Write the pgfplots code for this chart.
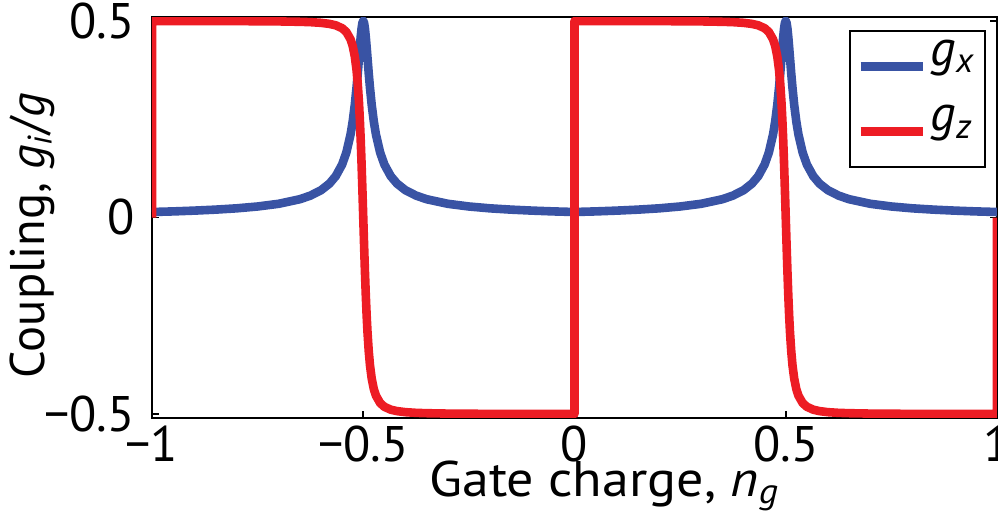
\documentclass[border=0pt]{standalone}
\usepackage{fontspec}
\setmainfont{PT Sans}
\newfontfamily\widefont{PT Sans}[FakeStretch=1.08]
\usepackage{pgfplots}
\usepackage{pgfplotstable}
\pgfplotsset{compat=1.18}

\definecolor{gxblue}{RGB}{57,83,164}
\definecolor{gzred}{RGB}{237,28,36}

% ng, g_x/g, g_z/g (repeated ng rows mark the jumps of g_z)
\pgfplotstableread{
ng      gx      gz
-1      0.0140  0
-1      0.0140  0.4999
-0.95   0.0155  0.4998
-0.9    0.0175  0.4997
-0.85   0.0200  0.4996
-0.8    0.0233  0.4995
-0.75   0.0280  0.4992
-0.7    0.0349  0.4988
-0.65   0.0465  0.4978
-0.625  0.0557  0.4969
-0.6    0.0693  0.4952
-0.58   0.0862  0.4925
-0.565  0.1053  0.4888
-0.55   0.1348  0.4815
-0.54   0.1652  0.4719
-0.53   0.2114  0.4531
-0.525  0.2443  0.4363
-0.52   0.2867  0.4096
-0.516  0.3293  0.3763
-0.513  0.3664  0.3402
-0.51   0.4069  0.2906
-0.508  0.4341  0.2481
-0.506  0.4596  0.1970
-0.504  0.4808  0.1374
-0.502  0.4950  0.0707
-0.5    0.5000  0
-0.498  0.4950  -0.0707
-0.496  0.4808  -0.1374
-0.494  0.4596  -0.1970
-0.492  0.4341  -0.2481
-0.49   0.4069  -0.2906
-0.487  0.3664  -0.3402
-0.484  0.3293  -0.3763
-0.48   0.2867  -0.4096
-0.475  0.2443  -0.4363
-0.47   0.2114  -0.4531
-0.46   0.1652  -0.4719
-0.45   0.1348  -0.4815
-0.435  0.1053  -0.4888
-0.42   0.0862  -0.4925
-0.4    0.0693  -0.4952
-0.375  0.0557  -0.4969
-0.35   0.0465  -0.4978
-0.3    0.0349  -0.4988
-0.25   0.0280  -0.4992
-0.2    0.0233  -0.4995
-0.15   0.0200  -0.4996
-0.1    0.0175  -0.4997
-0.05   0.0155  -0.4998
0       0.0140  -0.4999
0       0.0140  0
0       0.0140  0.4999
0.05    0.0155  0.4998
0.1     0.0175  0.4997
0.15    0.0200  0.4996
0.2     0.0233  0.4995
0.25    0.0280  0.4992
0.3     0.0349  0.4988
0.35    0.0465  0.4978
0.375   0.0557  0.4969
0.4     0.0693  0.4952
0.42    0.0862  0.4925
0.435   0.1053  0.4888
0.45    0.1348  0.4815
0.46    0.1652  0.4719
0.47    0.2114  0.4531
0.475   0.2443  0.4363
0.48    0.2867  0.4096
0.484   0.3293  0.3763
0.487   0.3664  0.3402
0.49    0.4069  0.2906
0.492   0.4341  0.2481
0.494   0.4596  0.1970
0.496   0.4808  0.1374
0.498   0.4950  0.0707
0.5     0.5000  0
0.502   0.4950  -0.0707
0.504   0.4808  -0.1374
0.506   0.4596  -0.1970
0.508   0.4341  -0.2481
0.51    0.4069  -0.2906
0.513   0.3664  -0.3402
0.516   0.3293  -0.3763
0.52    0.2867  -0.4096
0.525   0.2443  -0.4363
0.53    0.2114  -0.4531
0.54    0.1652  -0.4719
0.55    0.1348  -0.4815
0.565   0.1053  -0.4888
0.58    0.0862  -0.4925
0.6     0.0693  -0.4952
0.625   0.0557  -0.4969
0.65    0.0465  -0.4978
0.7     0.0349  -0.4988
0.75    0.0280  -0.4992
0.8     0.0233  -0.4995
0.85    0.0200  -0.4996
0.9     0.0175  -0.4997
0.95    0.0155  -0.4998
1       0.0140  -0.4999
1       0.0140  0
}\coupling

\begin{document}
\begin{tikzpicture}
% page = axis box plus the margins of the reference (labels on the left and below)
\useasboundingbox (-76pt,-50.5pt) rectangle (423pt,209pt);
\begin{axis}[
    at={(0pt,0pt)}, anchor=south west,
    scale only axis,
    width=422.5pt, height=200.5pt,
    xmin=-1, xmax=1,
    ymin=-0.51, ymax=0.51,
    xtick={-1,-0.5,0,0.5,1},
    xticklabels={−1,−0.5,0,0.5,1},
    ytick={-0.5,0,0.5},
    yticklabels={−0.5,0,0.5},
    tick align=inside,
    major tick length=3.5pt,
    axis line style={line width=0.9pt},
    every tick/.style={black, line width=0.8pt},
    tick label style={font=\fontsize{25}{30}\selectfont},
    xticklabel style={inner sep=0pt, yshift=-4pt},
    yticklabel style={inner sep=0pt, xshift=-8.5pt},
    xlabel={Gate charge, \textit{n}\textsubscript{\textit{g}}},
    xlabel style={font=\widefont\fontsize{25}{30}\selectfont, inner sep=0pt,
        at={(axis description cs:0.535,-0.195)}, anchor=base},
    ylabel={Coupling, \textit{g}\textsubscript{\textit{i}}/\textit{g}},
    ylabel style={font=\fontsize{24.3}{29}\selectfont, inner sep=0pt,
        at={(axis description cs:-0.142,0.455)}, anchor=center, rotate=0},
    legend style={font=\fontsize{25}{30}\selectfont, at={(1,1)}, anchor=north east,
        xshift=-5.5pt, yshift=-6.5pt, draw=black, line width=1pt,
        inner xsep=3pt, inner ysep=2.5pt, row sep=2.5pt,
        nodes={text depth=13.5pt}},
    legend cell align=left,
    legend image code/.code={\draw[#1, line width=4.3pt] (0pt,0pt) -- (31pt,0pt);},
]
\addplot[gxblue, line width=4.3pt, line join=round] table[x=ng, y=gx] {\coupling};
\addplot[gzred, line width=4.3pt, line join=round] table[x=ng, y=gz] {\coupling};
\legend{\textit{g}\textsubscript{\textit{x}}, \textit{g}\textsubscript{\textit{z}}}
\end{axis}
\end{tikzpicture}
\end{document}
